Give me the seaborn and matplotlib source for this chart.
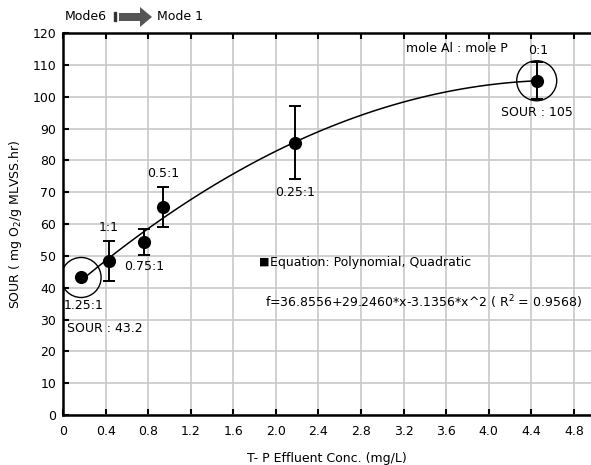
import numpy as np
import pandas as pd
import matplotlib
matplotlib.use("Agg")
import matplotlib.pyplot as plt
import matplotlib.patches as mpatches
import seaborn as sns

# ---- data ----
tp_conc = [0.17, 0.43, 0.765, 0.94, 2.18, 4.45]
sour = [43.2, 48.4, 54.4, 65.3, 85.5, 105.0]
sour_err = [0.0, 6.3, 4.0, 6.3, 11.5, 5.8]
ratio_labels = ["1.25:1", "1:1", "0.75:1", "0.5:1", "0.25:1", "0:1"]
circled = [0, 5]
x_ticks = [0, 0.4, 0.8, 1.2, 1.6, 2.0, 2.4, 2.8, 3.2, 3.6, 4.0, 4.4, 4.8]
x_tick_labels = ["0", "0.4", "0.8", "1.2", "1.6", "2.0", "2.4", "2.8", "3.2", "3.6", "4.0", "4.4", "4.8"]
y_ticks = list(range(0, 121, 10))

df = pd.DataFrame({"tp": tp_conc, "sour": sour, "err": sour_err, "label": ratio_labels})

sns.set_theme(style="whitegrid")
plt.rcParams["font.family"] = ["DejaVu Sans"]
plt.rcParams["mathtext.fontset"] = "dejavusans"
plt.rcParams["text.color"] = "black"
plt.rcParams["axes.labelcolor"] = "black"

FS = 9

W, H = 591, 465
fig = plt.figure(figsize=(W / 100, H / 100), dpi=100)
ax = fig.add_axes([63 / W, 1 - 415 / H, (W - 63) / W, (415 - 33) / H])

# fitted quadratic curve
sns.regplot(data=df, x="tp", y="sour", order=2, ci=None, scatter=False,
            truncate=True, ax=ax, line_kws=dict(color="black", lw=1.1))

# error bars
ax.errorbar(df["tp"], df["sour"], yerr=df["err"], fmt="none", ecolor="black",
            elinewidth=1.4, capsize=4, capthick=1.4, zorder=3)

# points
sns.scatterplot(data=df, x="tp", y="sour", color="black", s=90, marker="o",
                edgecolor="black", linewidth=0, ax=ax, zorder=4, legend=False)

# circles around extreme points
sub = df.iloc[circled]
sns.scatterplot(data=sub, x="tp", y="sour", s=830, marker="o", facecolors="none",
                edgecolor="black", linewidth=1.0, ax=ax, zorder=4, legend=False)

ax.set_xlim(0, 4.96)
ax.set_ylim(0, 120)
ax.set_xticks(x_ticks)
ax.set_xticklabels(x_tick_labels)
ax.set_yticks(y_ticks)
ax.grid(True, color="#c8c8c8", lw=1.2)
ax.set_axisbelow(True)
for s in ["left", "bottom", "top"]:
    ax.spines[s].set_visible(True)
    ax.spines[s].set_color("black")
    ax.spines[s].set_linewidth(1.8)
ax.spines["right"].set_visible(False)
ax.tick_params(axis="both", direction="in", length=4, width=1.5, color="black",
               labelsize=FS, labelcolor="black", top=True, left=True, bottom=True,
               labeltop=False, pad=5)
ax.tick_params(axis="x", pad=7)

ax.set_xlabel("T- P Effluent Conc. (mg/L)", fontsize=FS, labelpad=10, color="black")
ax.set_ylabel("SOUR ( mg O$_2$/g MLVSS.hr)", fontsize=FS, labelpad=6, color="black")

# point labels (offsets in points)
offsets = [(2, -20), (0, 24), (0, -18), (0, 24), (0, -36), (1, 22)]
for x, y, lab, (dx, dy) in zip(df["tp"], df["sour"], df["label"], offsets):
    ax.annotate(lab, (x, y), xytext=(dx, dy), textcoords="offset points",
                ha="center", va="center", fontsize=FS, color="black")
ax.annotate("SOUR : 43.2", (tp_conc[0], sour[0]), xytext=(-10, -37),
            textcoords="offset points", ha="left", va="center", fontsize=FS, color="black")
ax.annotate("SOUR : 105", (tp_conc[5], sour[5]), xytext=(0, -23),
            textcoords="offset points", ha="center", va="center", fontsize=FS, color="black")

# header texts in figure pixels
def fx(px):
    return px / W
def fy(py):
    return 1 - py / H

fig.text(fx(406), fy(49), "mole Al : mole P", fontsize=FS, ha="left", va="center")
fig.text(fx(259), fy(262), "\u25A0", fontsize=8, ha="left", va="center")
fig.text(fx(270), fy(262), "Equation: Polynomial, Quadratic", fontsize=FS, ha="left", va="center")
fig.text(fx(265), fy(302), "f=36.8556+29.2460*x-3.1356*x^2 ( R$^2$ = 0.9568)",
         fontsize=FS, ha="left", va="center")

fig.text(fx(65), fy(16), "Mode6", fontsize=FS, ha="left", va="center")
fig.add_artist(mpatches.Rectangle((fx(114), fy(21)), 2 / W, 9 / H, transform=fig.transFigure,
                                  color="#333333"))
fig.add_artist(mpatches.FancyArrow(fx(119), fy(17), 21 / W, 0, width=8 / H,
                                   head_width=20 / H, head_length=12 / W,
                                   length_includes_head=False, transform=fig.transFigure,
                                   color="#555555", lw=0))
fig.text(fx(157), fy(17), "Mode 1", fontsize=FS, ha="left", va="center")

fig.savefig("out.png", dpi=100)
